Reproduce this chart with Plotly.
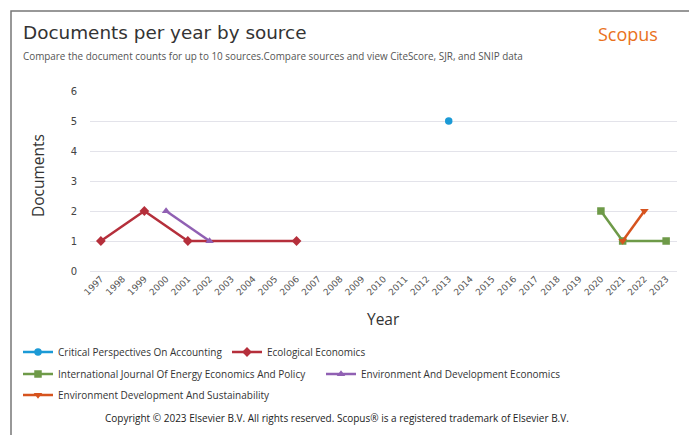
import plotly.graph_objects as go

# ---- data ----
years = list(range(1997, 2024))
year_labels = [str(y) for y in years]

cpa_x = [2013]
cpa_y = [5]
eco_x = [1997, 1999, 2001, 2006]
eco_y = [1, 2, 1, 1]
ijeep_x = [2020, 2021, 2023]
ijeep_y = [2, 1, 1]
ede_x = [2000, 2002]
ede_y = [2, 1]
eds_x = [2021, 2022]
eds_y = [1, 2]

y_ticks = [0, 1, 2, 3, 4, 5, 6]

# page body has an 8px margin; work in screen pixels and convert
OFF = 8
SW, SH = 697, 435
W, H = SW - OFF, SH - OFF
PL, PR, PT, PB = 90, 677, 91, 271   # plot area in screen pixels
L = PL - OFF
T = PT - OFF
R = W - (PR - OFF)
B = H - (PB - OFF)
PW = PR - PL
PH = PB - PT


def px(x):
    return (x - PL) / PW


def py(y):
    return (PB - y) / PH


def cx(x):
    return (x - OFF) / W


def cy(y):
    return 1 - (y - OFF) / H


fig = go.Figure()

FONT_TXT = "Open Sans"
FONT_AX = "DejaVu Sans"

# (name, x, y, colour, symbol, legend id, legend text-left px, legend row px)
series = [
    ("Critical Perspectives On Accounting", cpa_x, cpa_y, "#1b9ad6", "circle", "legend", 58, 352),
    ("Ecological Economics", eco_x, eco_y, "#b52f3b", "diamond", "legend2", 267, 352),
    ("International Journal Of Energy Economics And Policy", ijeep_x, ijeep_y, "#6e9a48", "square", "legend3", 58, 374),
    ("Environment And Development Economics", ede_x, ede_y, "#9060b3", "triangle-up", "legend4", 361, 374),
    ("Environment Development And Sustainability", eds_x, eds_y, "#d6531e", "triangle-down", "legend5", 58, 395),
]

leg_common = dict(orientation="h", xref="container", yref="container",
                  xanchor="left", yanchor="middle", bgcolor="rgba(0,0,0,0)",
                  font=dict(family=FONT_TXT, size=10, color="#333"),
                  itemwidth=30, tracegroupgap=0)
legends = {}
for name, xs, ys, col, sym, leg, tx, ty in series:
    fig.add_trace(go.Scatter(
        x=xs, y=ys, name=name, mode="lines+markers",
        line=dict(color=col, width=2.5),
        marker=dict(color=col, symbol=sym, size=7.5),
        legend=leg, cliponaxis=False,
    ))
    legends[leg] = dict(x=cx(tx - 40), y=cy(ty), **leg_common)

fig.update_xaxes(
    range=[years[0] - 0.5, years[-1] + 0.5],
    tickmode="array", tickvals=years, ticktext=year_labels,
    tickangle=-45, tickfont=dict(family=FONT_AX, size=9, color="#555"),
    showgrid=False, zeroline=False, showline=False, ticks="",
)
fig.update_yaxes(
    range=[0, 6], tickmode="array", tickvals=y_ticks,
    tickfont=dict(family=FONT_AX, size=10, color="#444"),
    showgrid=True, gridcolor="#e3e3ea", gridwidth=1,
    zeroline=True, zerolinecolor="#e3e3ea", zerolinewidth=1,
    showline=False, ticks="", ticklabelstandoff=12,
)

fig.update_layout(
    width=W, height=H,
    margin=dict(l=L, r=R, t=T, b=B),
    paper_bgcolor="white", plot_bgcolor="white",
    showlegend=True,
    **legends,
)

annotations = [
    dict(text="Documents per year by source", x=px(21), y=py(32), xanchor="left", yanchor="middle",
         font=dict(family=FONT_AX, size=18.4, color="#333")),
    dict(text="Compare the document counts for up to 10 sources.Compare sources and view CiteScore, SJR, and SNIP data",
         x=px(21), y=py(56), xanchor="left", yanchor="middle",
         font=dict(family=FONT_TXT, size=9.9, color="#555")),
    dict(text="Scopus", x=px(596), y=py(34), xanchor="left", yanchor="middle",
         font=dict(family=FONT_TXT, size=18, color="#e9711c")),
    dict(text="Documents", x=px(38), y=py(176), xanchor="center", yanchor="middle", textangle=-90,
         font=dict(family=FONT_TXT, size=15.5, color="#333")),
    dict(text="Year", x=px(383), y=py(319), xanchor="center", yanchor="middle",
         font=dict(family=FONT_TXT, size=15.5, color="#333")),
    dict(text="Copyright © 2023 Elsevier B.V. All rights reserved. Scopus® is a registered trademark of Elsevier B.V.",
         x=px(337), y=py(418), xanchor="center", yanchor="middle",
         font=dict(family=FONT_TXT, size=10, color="#222")),
]
for a in annotations:
    a.update(xref="paper", yref="paper", showarrow=False)
fig.update_layout(annotations=annotations)

# frame
fig.add_shape(type="rect", xref="paper", yref="paper",
              x0=px(11), x1=px(690), y0=py(450), y1=py(11),
              line=dict(color="#777", width=1.5), fillcolor="rgba(0,0,0,0)", layer="below")

fig.write_html("out.html")
